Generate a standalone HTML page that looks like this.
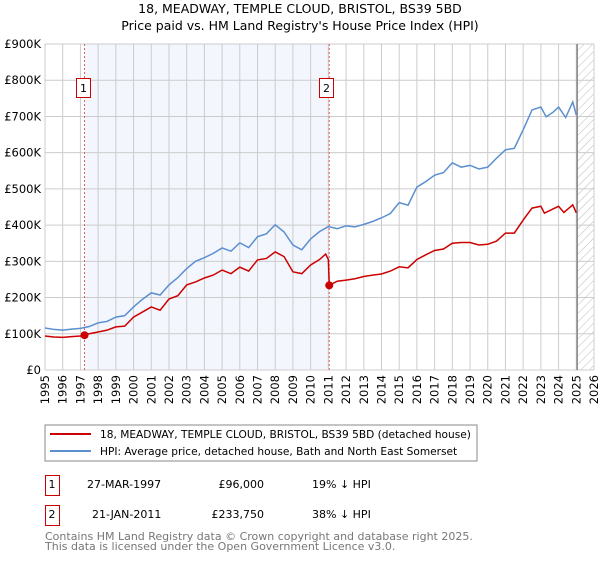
<!DOCTYPE html>
<html><head><meta charset="utf-8"><style>
body{margin:0;background:#fff;width:600px;height:560px;overflow:hidden;font-family:"DejaVu Sans","Liberation Sans",sans-serif;}
svg text{font-family:"DejaVu Sans","Liberation Sans",sans-serif;}
</style></head><body>
<svg id="c" width="600" height="560">
<defs><pattern id="hatch" width="6" height="6" patternUnits="userSpaceOnUse" patternTransform="rotate(45)"><line x1="0" y1="0" x2="0" y2="6" stroke="#bbb" stroke-width="1"/></pattern></defs>
<text x="300" y="13" text-anchor="middle" font-size="12.5">18, MEADWAY, TEMPLE CLOUD, BRISTOL, BS39 5BD</text>
<text x="300" y="30" text-anchor="middle" font-size="12.5">Price paid vs. HM Land Registry's House Price Index (HPI)</text>
<g id="plot"></g>
<rect x="45" y="425" width="432" height="36" fill="#fff" stroke="#888"/>
<line x1="50" y1="434" x2="91" y2="434" stroke="#cc0000" stroke-width="2"/>
<text x="100" y="438" font-size="10.6">18, MEADWAY, TEMPLE CLOUD, BRISTOL, BS39 5BD (detached house)</text>
<line x1="50" y1="451" x2="91" y2="451" stroke="#5b8fd0" stroke-width="2"/>
<text x="100" y="455" font-size="10.6">HPI: Average price, detached house, Bath and North East Somerset</text>
<g>
<rect x="45.5" y="475.5" width="14" height="20" fill="none" stroke="#cc0000"/>
<text x="52" y="488" font-size="11" text-anchor="middle">1</text>
<text x="87" y="488" font-size="11">27-MAR-1997</text>
<text x="264" y="488" font-size="11" text-anchor="end">£96,000</text>
<text x="312" y="488" font-size="11">19% ↓ HPI</text></g>
<g>
<rect x="45.5" y="505.5" width="14" height="20" fill="none" stroke="#cc0000"/>
<text x="52" y="518" font-size="11" text-anchor="middle">2</text>
<text x="92" y="518" font-size="11">21-JAN-2011</text>
<text x="264" y="518" font-size="11" text-anchor="end">£233,750</text>
<text x="312" y="518" font-size="11">38% ↓ HPI</text></g>
<text x="45" y="540" font-size="11" fill="#777">Contains HM Land Registry data © Crown copyright and database right 2025.</text>
<text x="45" y="550" font-size="11" fill="#777">This data is licensed under the Open Government Licence v3.0.</text>
</svg>
<script>
const yTicks=[0,100,200,300,400,500,600,700,800,900];
const yTickLabels=["£0","£100K","£200K","£300K","£400K","£500K","£600K","£700K","£800K","£900K"];
const xYears=[1995,1996,1997,1998,1999,2000,2001,2002,2003,2004,2005,2006,2007,2008,2009,2010,2011,2012,2013,2014,2015,2016,2017,2018,2019,2020,2021,2022,2023,2024,2025,2026];
const hpiT=[1995,1995.5,1996,1996.5,1997,1997.5,1998,1998.5,1999,1999.5,2000,2000.5,2001,2001.5,2002,2002.5,2003,2003.5,2004,2004.5,2005,2005.5,2006,2006.5,2007,2007.5,2008,2008.5,2009,2009.5,2010,2010.5,2011,2011.5,2012,2012.5,2013,2013.5,2014,2014.5,2015,2015.5,2016,2016.5,2017,2017.5,2018,2018.5,2019,2019.5,2020,2020.5,2021,2021.5,2022,2022.5,2023,2023.3,2023.7,2024,2024.4,2024.8,2025];
const hpiV=[116,112,110,113,115,120,130,134,146,150,174,195,213,207,235,255,280,300,310,322,337,328,351,338,368,376,401,381,345,332,362,382,396,390,398,395,402,410,420,432,462,455,505,520,538,545,572,560,565,555,560,585,608,612,663,718,726,699,712,726,697,740,704];
const ppT=[1995,1995.5,1996,1996.5,1997,1997.23,1997.5,1998,1998.5,1999,1999.5,2000,2000.5,2001,2001.5,2002,2002.5,2003,2003.5,2004,2004.5,2005,2005.5,2006,2006.5,2007,2007.5,2008,2008.5,2009,2009.5,2010,2010.5,2010.85,2011.0,2011.05,2011.5,2012,2012.5,2013,2013.5,2014,2014.5,2015,2015.5,2016,2016.5,2017,2017.5,2018,2018.5,2019,2019.5,2020,2020.5,2021,2021.5,2022,2022.5,2023,2023.2,2023.7,2024,2024.3,2024.8,2025];
const ppV=[94,91,90,92,94,96,100,105,110,119,121,146,160,174,165,196,205,235,243,254,262,276,266,284,273,304,308,326,313,271,266,290,305,320,305,233.75,245,248,252,258,262,265,273,285,282,305,318,330,334,350,352,352,345,347,356,378,378,414,447,452,433,445,452,435,456,434];
const sales=[[1997.23,96],[2011.05,233.75]];
const X0=45,X1=594,Y0=370,Y1=44;
const xs=t=>X0+(t-1995)/(2026-1995)*(X1-X0);
const ys=v=>Y0-v/900*(Y0-Y1);
const NS="http://www.w3.org/2000/svg";
const g=document.getElementById('plot');
function mk(tag,at,p){const e=document.createElementNS(NS,tag);for(const k in at)e.setAttribute(k,at[k]);(p||g).appendChild(e);return e;}
let e;
e=mk('rect',{x:X0,y:Y1,width:X1-X0,height:Y0-Y1,fill:'#fff'});


e=mk('rect',{x:xs(sales[0][0]),y:Y1,width:xs(sales[1][0])-xs(sales[0][0]),height:Y0-Y1,fill:'#f3f6fd'});


e=mk('rect',{x:xs(2025.05),y:Y1,width:X1-xs(2025.05),height:Y0-Y1,fill:'url(#hatch)'});


yTicks.forEach((v,i)=>{
 e=mk('line',{x1:X0,x2:X1,y1:ys(v),y2:ys(v),stroke:'#ccc'});
 
 
 e=mk('text',{x:41,y:ys(v)+4,'text-anchor':'end','font-size':'11.5'});e.textContent=yTickLabels[i];
 
 
});
xYears.forEach(t=>{
 e=mk('line',{x1:xs(t),x2:xs(t),y1:Y1,y2:Y0,stroke:'#ccc'});
 
 
 e=mk('text',{x:0,y:0,'text-anchor':'end','font-size':'11.5',transform:`translate(${xs(t)+4},375) rotate(-90)`});e.textContent=t;
 
 
});
e=mk('line',{x1:xs(2025.05),x2:xs(2025.05),y1:Y1,y2:Y0,stroke:'#888','stroke-width':1.5});


sales.forEach((s,i)=>{
 e=mk('line',{x1:xs(s[0]),x2:xs(s[0]),y1:Y1,y2:Y0,stroke:'#e06060','stroke-dasharray':'2,2'});
 
 
 const bl=Math.round(xs(s[0])-(i==0?8:10.5))+0.5;
 e=mk('rect',{x:bl,y:78.5,width:14,height:19,fill:'#fff',stroke:'#cc0000'});
 
 
 e=mk('text',{x:bl+7,y:92,'text-anchor':'middle','font-size':'11'});e.textContent=String(i+1);
 
 
});
e=mk('polyline',{points:hpiT.map((t,i)=>xs(t)+','+ys(hpiV[i])).join(' '),fill:'none',stroke:'#5b8fd0','stroke-width':1.5});


e=mk('polyline',{points:ppT.map((t,i)=>xs(t)+','+ys(ppV[i])).join(' '),fill:'none',stroke:'#cc0000','stroke-width':1.5});


sales.forEach(s=>{
 e=mk('circle',{cx:xs(s[0]),cy:ys(s[1]),r:4,fill:'#cc0000'});
 
 
});
</script>
</body></html>
